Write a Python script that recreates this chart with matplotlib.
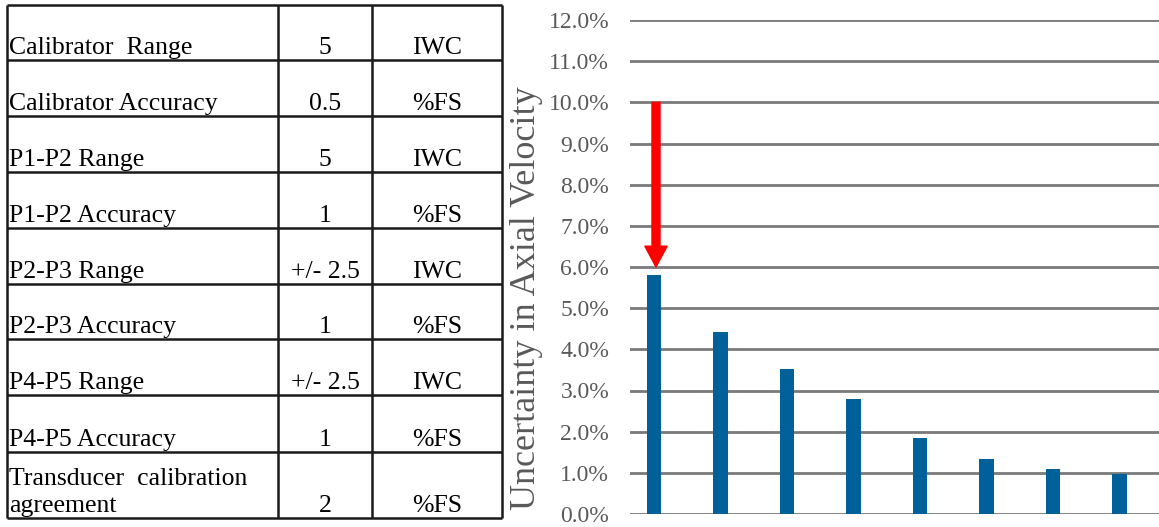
import numpy as np
import matplotlib.pyplot as plt
from matplotlib.ticker import PercentFormatter

# table contents
params = ['Calibrator  Range', 'Calibrator Accuracy', 'P1-P2 Range', 'P1-P2 Accuracy',
          'P2-P3 Range', 'P2-P3 Accuracy', 'P4-P5 Range', 'P4-P5 Accuracy',
          'Transducer  calibration\nagreement']
values = ['5', '0.5', '5', '1', '+/- 2.5', '1', '+/- 2.5', '1', '2']
units = ['IWC', '%FS', 'IWC', '%FS', 'IWC', '%FS', 'IWC', '%FS', '%FS']

# bar chart values (fraction)
uncertainty = [0.0580, 0.0442, 0.0352, 0.0280, 0.0185, 0.0134, 0.0109, 0.0097]
arrow_from, arrow_to = 0.10, 0.06

W, H = 1159, 527
fig = plt.figure(figsize=(W / 100, H / 100), dpi=100)
plt.rcParams['font.family'] = ['Liberation Serif', 'DejaVu Serif']

#table on the left, drawn in pixel coordinates
tab = fig.add_axes([0, 0, 1, 1])
tab.set_xlim(0, W)
tab.set_ylim(H, 0)
tab.axis('off')
row_lines = [5, 60, 116, 172, 228, 284, 339, 395, 452, 518]
col_lines = [7, 278, 372, 502]
tab.hlines(row_lines, col_lines[0], col_lines[-1], color='#1a1a1a', lw=1.8)
tab.vlines(col_lines, row_lines[0], row_lines[-1], color='#1a1a1a', lw=1.8)
fs = 18.5
for i in range(len(params)):
    base = row_lines[i + 1] - 6
    tab.text(col_lines[0] + 2, base, params[i], ha='left', va='baseline', fontsize=fs,
             linespacing=1.3)
    tab.text((col_lines[1] + col_lines[2]) / 2, base, values[i], ha='center', va='baseline', fontsize=fs)
    tab.text((col_lines[2] + col_lines[3]) / 2, base, units[i], ha='center', va='baseline', fontsize=fs)

#bar chart on the right
ax = fig.add_axes([630 / W, 13 / H, (W - 630) / W, 494 / H])
x = np.arange(len(uncertainty))
ax.bar(x, uncertainty, width=0.225, color='#00609a', zorder=3)
ax.set_ylim(0, 0.12)
ax.set_yticks(np.arange(0, 0.1201, 0.01))
ax.yaxis.set_major_formatter(PercentFormatter(xmax=1, decimals=1))
ax.set_xlim(-0.361, 7.594)
ax.set_xticks([])
ax.yaxis.grid(True, color='#7a7a7a', lw=2.0)
ax.set_axisbelow(True)
for s in ax.spines.values():
    s.set_visible(False)
ax.tick_params(axis='y', length=0, pad=15, labelsize=17, labelcolor='#595959')
ax.set_ylabel('Uncertainty in Axial Velocity', fontsize=26, color='#595959')
ax.yaxis.label.set_va('center')
ax.yaxis.set_label_coords(-0.195, 0.436)

ax.annotate('', xy=(0.03, arrow_to), xytext=(0.03, arrow_from),
            arrowprops=dict(color='#ff0000', width=5.8, headwidth=16, headlength=15, shrink=0),
            zorder=5)

fig.savefig('out.png', dpi=100)
